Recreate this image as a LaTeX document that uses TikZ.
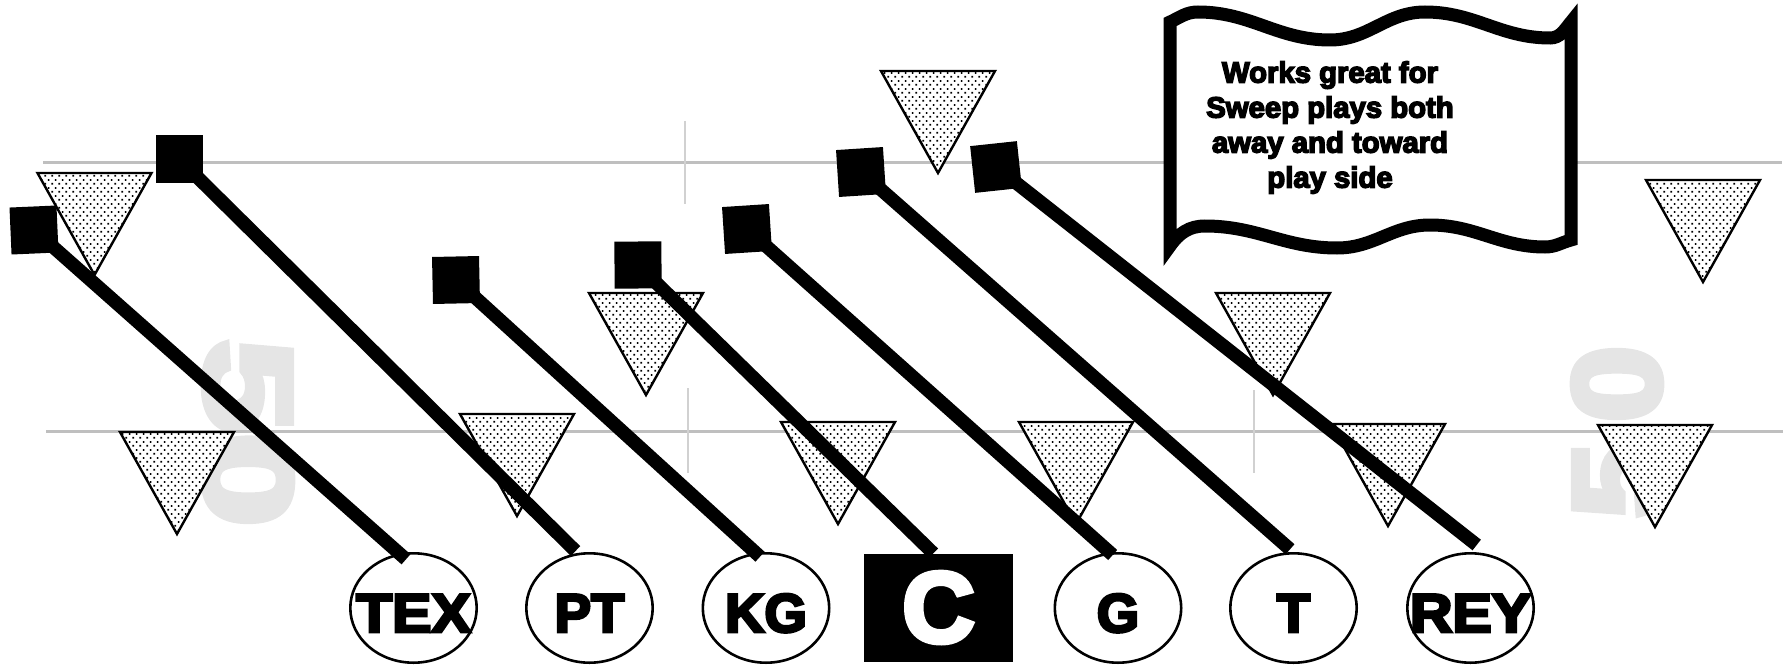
\documentclass[tikz,border=0pt]{standalone}
\usepackage{fontspec}
\usepackage{graphicx}
\setmainfont{Liberation Sans}
\newfontfamily\heavyface[FakeBold=5]{Liberation Sans Bold}
\usetikzlibrary{patterns,calc,shapes.geometric}

% staggered square dots used to shade the defenders
\pgfdeclarepatternformonly{stagdots}{\pgfpointorigin}{\pgfpoint{7.4pt}{8.2pt}}{\pgfpoint{7.4pt}{8.2pt}}{%
  \pgfpathrectangle{\pgfpoint{0.5pt}{0.5pt}}{\pgfpoint{1.7pt}{1.7pt}}%
  \pgfpathrectangle{\pgfpoint{4.2pt}{4.6pt}}{\pgfpoint{1.7pt}{1.7pt}}%
  \pgfusepath{fill}}

% one defender: top-left corner (x, y measured downward)
\newcommand\drawdefender[2]{%
  \path[defender] (#1,-#2) -- ++(114,0) -- ++(-57,-102) -- cycle;}

% wide label that may spill over its ellipse
\newcommand\widelabel[1]{\makebox[0pt]{\scalebox{1.08}[1]{#1}}}

\begin{document}
\begin{tikzpicture}[x=1pt,y=1pt,
  yard/.style={draw=black!25, line width=3pt},
  hashmark/.style={draw=black!18, line width=1.4pt},
  numeral/.style={text=black!10, inner sep=0pt,
    font=\heavyface\fontsize{125}{125}\selectfont},
  defender/.style={draw=black, line width=2.4pt, line join=miter,
    preaction={fill=white}, pattern=stagdots},
  player/.style={ellipse, draw=black, line width=2.6pt, fill=white,
    minimum width=126.4pt, minimum height=109.4pt, inner sep=0pt,
    font=\heavyface\fontsize{54.5}{54.5}\selectfont,
    text height=48pt, text depth=0pt},
  snapbox/.style={rectangle, fill=black, minimum width=149pt,
    minimum height=108pt, inner sep=0pt, text=white,
    font=\heavyface\fontsize{100}{100}\selectfont,
    text height=68pt, text depth=0pt},
  blocker/.style={rectangle, fill=black, minimum size=47pt, inner sep=0pt},
  route/.style={draw=black, line width=13.5pt, line cap=butt},
  banner/.style={draw=black, line width=13pt, line join=miter, fill=white},
  note/.style={align=center, inner sep=0pt,
    font=\heavyface\fontsize{29.3}{35}\selectfont}]

\useasboundingbox (0,0) rectangle (1790,-666);

% midfield numerals
\node[numeral, rotate=-90] (fiftyL) at (248,-433) {\scalebox{1.35}[1]{50}};
\node[numeral, rotate=90] (fiftyR) at (1617,-432) {\scalebox{1.1}[1]{5\kern18pt0}};

% yard lines and hash marks
\draw[yard] (43,-162) -- (1782,-162);
\draw[yard] (46,-431) -- (1783,-431);
\draw[hashmark] (685,-121) -- (685,-204);
\draw[hashmark] (688,-388) -- (688,-473);
\draw[hashmark] (1254,-390) -- (1254,-473);

% double-wave banner with the coaching note
\draw[banner]
  (1170,-22) to[out=25,in=180] (1198,-12)
  to[out=0,in=180] (1330,-40)
  to[out=0,in=180] (1425,-12)
  to[out=0,in=180] (1550,-38)
  to[out=0,in=230] (1571,-22)
  -- (1571,-240)
  to[out=195,in=0] (1545,-247)
  to[out=180,in=0] (1430,-225)
  to[out=180,in=0] (1337,-248)
  to[out=180,in=0] (1205,-226)
  to[out=180,in=55] (1170,-246)
  -- cycle;
\node[note] (tip) at (1330,-127.5)
  {Works great for\\Sweep plays both\\away and toward\\play side};

% defenders
\drawdefender{37.5}{173}
\drawdefender{120}{432}
\drawdefender{460}{414}
\drawdefender{881}{71}
\drawdefender{589}{293}
\drawdefender{781}{422}
\drawdefender{1019}{422}
\drawdefender{1216}{293}
\drawdefender{1331}{424}
\drawdefender{1646}{180}
\drawdefender{1598}{425}

% offensive line
\node[player] (TEX) at (413.5,-608) {\widelabel{TEX}};
\node[player] (PT)  at (589.5,-608) {\makebox[0pt]{PT}};
\node[player] (KG)  at (766,-608)   {\makebox[0pt]{KG}};
\node[snapbox] (C)  at (938.5,-608) {C};
\node[player] (G)   at (1118,-608)  {\makebox[0pt]{G}};
\node[player] (T)   at (1293.5,-608) {\makebox[0pt]{T}};
\node[player] (REY) at (1470.5,-608) {\widelabel{REY}};

% blocking targets
\node[blocker, rotate=2.5] (bTEX) at (34,-230) {};
\node[blocker]             (bPT)  at (179,-159) {};
\node[blocker, rotate=1.2] (bKG)  at (456,-280) {};
\node[blocker, rotate=0.5] (bC)   at (638,-265) {};
\node[blocker, rotate=3.7] (bG)   at (747,-229) {};
\node[blocker, rotate=3.7] (bT)   at (861,-172) {};
\node[blocker, rotate=6.1] (bREY) at (996,-167) {};

% blocking paths
\draw[route] (bTEX.center) -- ($(TEX.center)+(-7.5,48.7)$);
\draw[route] (bPT.center)  -- ($(PT.center)+(-14,57)$);
\draw[route] (bKG.center)  -- ($(KG.center)+(-6,51.3)$);
\draw[route] (bC.center)   -- ($(C.center)+(-5.2,54.7)$);
\draw[route] (bG.center)   -- ($(G.center)+(-5.3,53)$);
\draw[route] (bT.center)   -- ($(T.center)+(-3.5,58.7)$);
\draw[route] (bREY.center) -- ($(REY.center)+(6.2,63)$);
\end{tikzpicture}
\end{document}
